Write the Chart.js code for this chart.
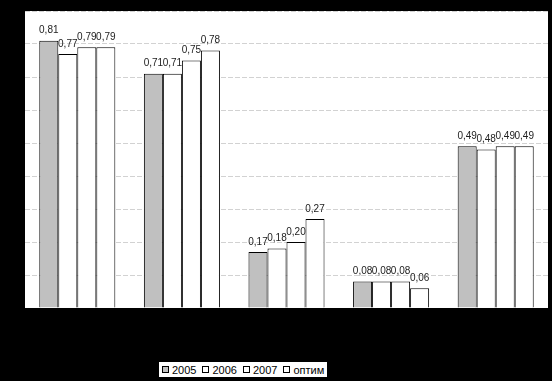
<!DOCTYPE html>
<html>
<head>
<meta charset="utf-8">
<script src="https://cdn.jsdelivr.net/npm/chart.js@4"></script>
<style>
  html, body { margin: 0; padding: 0; background: #000; }
  #wrap { position: relative; width: 552px; height: 381px; }
  #legend {
    position: absolute; left: 159px; top: 362px; height: 15px;
    background: #fff; display: flex; align-items: center;
    padding: 0 3px 0 3px; font: 11px "Liberation Sans", Arial, sans-serif; color: #000;
  }
  #legend .item { display: flex; align-items: center; margin-right: 6px; }
  #legend .item:last-child { margin-right: 0; }
  #legend .sw { width: 5px; height: 5px; border: 1px solid #000; margin-right: 3px; }
</style>
</head>
<body>
<div id="wrap">
  <canvas id="chart" width="552" height="381"></canvas>
  <div id="legend"></div>
</div>
<script>
// groups along the x axis (no visible labels in the original)
const categories = ['1', '2', '3', '4', '5'];

const seriesNames = ['2005', '2006', '2007', 'оптим'];
const values2005 = [0.81, 0.71, 0.17, 0.08, 0.49];
const values2006 = [0.77, 0.71, 0.18, 0.08, 0.48];
const values2007 = [0.79, 0.75, 0.20, 0.08, 0.49];
const valuesOptim = [0.79, 0.78, 0.27, 0.06, 0.49];

const yTicks = [0, 0.1, 0.2, 0.3, 0.4, 0.5, 0.6, 0.7, 0.8, 0.9];

const fills = ['#c0c0c0', '#ffffff', '#ffffff', '#ffffff'];
const allValues = [values2005, values2006, values2007, valuesOptim];

const fmt = v => v.toFixed(2).replace('.', ',');

// white plot area on the black page
const plotBg = {
  id: 'plotBg',
  beforeDraw(chart) {
    const { ctx, chartArea: a } = chart;
    ctx.save();
    ctx.fillStyle = '#fff';
    ctx.fillRect(a.left, a.top, a.right - a.left, a.bottom - a.top);
    ctx.restore();
  }
};

// value labels above the bars
const barLabels = {
  id: 'barLabels',
  afterDatasetsDraw(chart) {
    const ctx = chart.ctx;
    ctx.save();
    ctx.font = '10px "Liberation Sans", Arial, sans-serif';
    ctx.fillStyle = '#222';
    ctx.textAlign = 'center';
    ctx.textBaseline = 'middle';
    chart.data.datasets.forEach((ds, i) => {
      chart.getDatasetMeta(i).data.forEach((bar, j) => {
        ctx.fillText(fmt(ds.data[j]), bar.x, bar.y - 10);
      });
    });
    ctx.restore();
  }
};

const chart = new Chart(document.getElementById('chart'), {
  type: 'bar',
  data: {
    labels: categories,
    datasets: seriesNames.map((name, i) => ({
      label: name,
      data: allValues[i],
      backgroundColor: fills[i],
      borderColor: '#000',
      borderWidth: 1,
      barPercentage: 1,
      categoryPercentage: 0.727
    }))
  },
  options: {
    responsive: false,
    animation: false,
    layout: { padding: { top: 11, right: 4, bottom: 73, left: 0 } },
    plugins: {
      legend: { display: false },
      tooltip: { enabled: false }
    },
    scales: {
      x: { display: false },
      y: {
        min: 0,
        max: 0.9,
        afterBuildTicks(scale) {
          scale.ticks = yTicks.map(v => ({ value: v }));
        },
        afterFit(scale) { scale.width = 25; },
        ticks: { display: false },
        grid: {
          color: ctx => (ctx.tick && ctx.tick.value === 0 ? 'rgba(0,0,0,0)' : '#d2d2d2'),
          lineWidth: 1,
          drawTicks: false
        },
        border: { display: false, dash: [5, 2] }
      }
    }
  },
  plugins: [plotBg, barLabels]
});

// legend box under the plot
const legendEl = document.getElementById('legend');
seriesNames.forEach((name, i) => {
  const item = document.createElement('span');
  item.className = 'item';
  const sw = document.createElement('span');
  sw.className = 'sw';
  sw.style.background = fills[i];
  item.appendChild(sw);
  item.appendChild(document.createTextNode(name));
  legendEl.appendChild(item);
});
</script>
</body>
</html>
